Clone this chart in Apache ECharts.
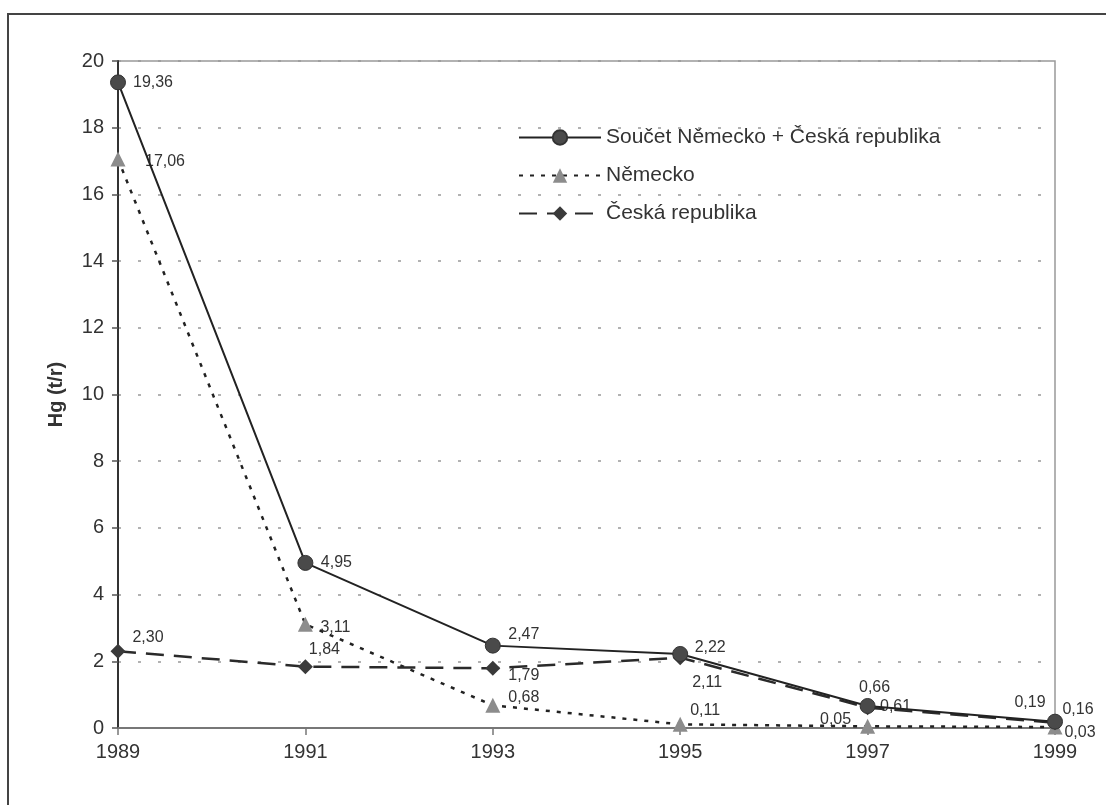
<!DOCTYPE html>
<html>
<head>
<meta charset="utf-8">
<script src="https://cdn.jsdelivr.net/npm/echarts@6/dist/echarts.min.js"></script>
<style>
html,body{margin:0;padding:0;background:#fff;}
#chart{width:1106px;height:805px;}
</style>
</head>
<body>
<div id="chart"></div>
<script>
// ---- data ----
const years = ['1989', '1991', '1993', '1995', '1997', '1999'];
const soucet = [19.36, 4.95, 2.47, 2.22, 0.66, 0.19];
const nemecko = [17.06, 3.11, 0.68, 0.11, 0.05, 0.03];
const ceskaRep = [2.30, 1.84, 1.79, 2.11, 0.61, 0.16];
const seriesNames = ['Součet Německo + Česká republika', 'Německo', 'Česká republika'];
const yTicks = [0, 2, 4, 6, 8, 10, 12, 14, 16, 18, 20];

// label offsets (style only)
const offSoucet = [[35,0],[31,0],[31,-11],[30,-6],[7,-18],[-25,-19]];
const offNemecko = [[47,3],[30,3],[31,-8],[25,-14],[-32,-7],[25,6]];
const offCeska = [[30,-14],[19,-17],[31,7],[27,25],[28,-1],[23,-13]];

const FONT = '"Liberation Sans", Arial, Helvetica, sans-serif';
const fmt = v => v.toFixed(2).replace('.', ',');

function build(values, offsets) {
  return values.map((v, i) => ({
    value: v,
    label: { offset: offsets[i] }
  }));
}

const chart = echarts.init(document.getElementById('chart'), null, {renderer: 'canvas'});
const labelBase = {
  show: true,
  position: 'inside',
  color: '#333',
  fontSize: 16,
  fontFamily: FONT,
  formatter: p => fmt(p.value)
};

chart.setOption({
  animation: false,
  backgroundColor: '#fff',
  graphic: [{
    type: 'rect',
    shape: {x: 8, y: 14, width: 1200, height: 900},
    style: {fill: 'none', stroke: '#444', lineWidth: 2},
    z: 0
  }],
  grid: {
    left: 118, top: 61, right: 51, bottom: 77,
    show: true, borderColor: '#999', borderWidth: 1.5, backgroundColor: 'transparent'
  },
  legend: {
    orient: 'vertical',
    left: 513, top: 122,
    itemWidth: 82, itemHeight: 18, itemGap: 17,
    textStyle: {fontSize: 21, lineHeight: 20, color: '#333', fontFamily: FONT},
    data: seriesNames
  },
  xAxis: {
    type: 'category',
    data: years,
    boundaryGap: false,
    axisLine: {lineStyle: {color: '#777', width: 2}},
    axisTick: {show: true, length: 7, lineStyle: {color: '#777', width: 1.5}},
    axisLabel: {color: '#333', fontSize: 20, fontFamily: FONT, margin: 14},
    splitLine: {show: false}
  },
  yAxis: {
    type: 'value',
    min: 0, max: 20, interval: 2,
    name: 'Hg (t/r)',
    nameLocation: 'middle',
    nameGap: 52,
    nameRotate: 90,
    nameTextStyle: {fontSize: 20, fontWeight: 'bold', color: '#333', fontFamily: FONT},
    axisLine: {show: true, lineStyle: {color: '#333', width: 2}},
    axisTick: {show: true, length: 6, lineStyle: {color: '#555', width: 1.5}},
    axisLabel: {color: '#333', fontSize: 20, fontFamily: FONT, margin: 14,
      formatter: v => yTicks.includes(v) ? String(v) : ''},
    splitLine: {show: true, lineStyle: {color: '#999', width: 1.5, type: [3, 17]}}
  },
  series: [
    {
      name: seriesNames[0],
      type: 'line',
      data: build(soucet, offSoucet),
      symbol: 'circle', symbolSize: 15,
      itemStyle: {color: '#4a4a4a', borderColor: '#333', borderWidth: 1},
      lineStyle: {color: '#222', width: 2},
      label: labelBase,
      z: 5
    },
    {
      name: seriesNames[1],
      type: 'line',
      data: build(nemecko, offNemecko),
      symbol: 'triangle', symbolSize: 15,
      itemStyle: {color: '#8c8c8c', borderColor: '#888', borderWidth: 0},
      lineStyle: {color: '#222', width: 2.5, type: [4, 7]},
      label: labelBase,
      z: 3
    },
    {
      name: seriesNames[2],
      type: 'line',
      data: build(ceskaRep, offCeska),
      symbol: 'diamond', symbolSize: 15,
      itemStyle: {color: '#3a3a3a', borderColor: '#333', borderWidth: 0},
      lineStyle: {color: '#2a2a2a', width: 2.5, type: [18, 10]},
      label: labelBase,
      z: 4
    }
  ]
});
</script>
</body>
</html>
